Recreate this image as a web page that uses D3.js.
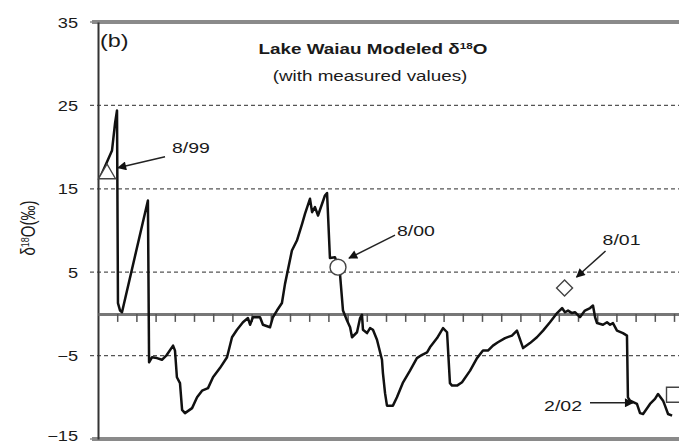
<!DOCTYPE html>
<html>
<head>
<meta charset="utf-8">
<script src="https://cdn.jsdelivr.net/npm/d3@7"></script>
<style>
  body { margin: 0; background: #fff; }
  svg text { font-family: "Liberation Sans", Arial, sans-serif; fill: #1a1a1a; }
</style>
</head>
<body>
<div id="chart"></div>
<script>
// modeled lake d18O; x = months since 1 Aug 1999
const months = [
  0.10, 0.73, 0.89, 0.99, 1.04, 1.15, 1.25, 2.60, 2.66,
  2.81, 3.07, 3.33, 3.59, 3.91, 4.01, 4.11, 4.27, 4.38, 4.53, 4.90, 5.16, 5.42, 5.73, 5.99,
  6.35, 6.72, 6.98, 7.24, 7.55, 7.81, 7.92, 8.07, 8.44, 8.59, 8.96, 9.11, 9.32, 9.58,
  9.74, 10.10, 10.36, 10.63, 10.78, 11.04, 11.15, 11.30, 11.46, 11.82, 11.93,
  12.08, 12.34, 12.50, 12.60, 12.76, 12.97, 13.13, 13.23, 13.49, 13.65, 13.75, 13.80,
  14.01, 14.17, 14.32, 14.53, 14.79, 14.84, 14.95, 15.05, 15.36, 15.57, 15.89, 16.25,
  16.61, 16.88, 17.14, 17.29, 17.66, 17.97, 18.18, 18.33, 18.44, 18.70, 18.96, 19.38,
  19.74, 20.05, 20.31, 20.57, 20.83, 21.20, 21.56, 21.82, 22.14, 22.50, 22.86, 23.18,
  23.54, 23.91, 24.17, 24.32, 24.48, 24.69, 24.84, 25.10, 25.36, 25.63, 25.78, 25.89,
  25.99, 26.30, 26.51, 26.67, 26.82, 27.03, 27.34, 27.55, 27.60, 27.71, 28.07, 28.23,
  28.39, 28.75, 29.01, 29.17, 29.43, 29.53, 29.69, 29.90
]
const d18O = [
  16.3, 19.6, 22.9, 24.4, 1.3, 0.4, 0.2, 13.6, -5.8,
  -5.2, -5.3, -5.5, -4.9, -3.8, -4.4, -7.6, -8.3, -11.5, -11.9, -11.3, -10.0, -9.2, -8.9, -7.6,
  -6.5, -5.2, -2.8, -1.9, -1.0, -0.5, -1.3, -0.4, -0.4, -1.3, -1.6, -0.4, 0.4, 1.3,
  3.6, 7.6, 8.8, 10.8, 12.0, 13.8, 12.2, 12.8, 11.8, 14.2, 14.5,
  6.7, 6.8, 5.8, 4.9, 0.4, -0.8, -1.6, -2.8, -2.2, -0.5, -0.1, -1.9,
  -2.3, -1.7, -1.9, -3.1, -5.5, -7.1, -9.5, -11.0, -11.0, -10.0, -8.2, -6.8,
  -5.3, -4.9, -4.6, -4.0, -2.9, -1.7, -2.2, -8.3, -8.6, -8.6, -8.2, -6.8,
  -5.3, -4.4, -4.4, -3.8, -3.4, -2.9, -2.6, -2.0, -4.1, -3.5, -2.8, -2.0,
  -1.0, 0.1, 0.7, 0.2, 0.4, 0.1, 0.2, -0.4, 0.4, 0.7, 1.0, -0.4,
  -1.1, -1.3, -1.0, -1.3, -1.1, -2.0, -2.3, -2.6, -10.0, -10.4, -10.8, -11.9,
  -12.0, -10.8, -10.2, -9.6, -10.4, -11.0, -12.0, -12.2
]

// measured values
const measLabels = ['8/99', '8/00', '8/01', '2/02']
const measMonths = [0.47, 12.5, 24.3, 30.0]
const measValues = [16.8, 5.6, 3.1, -9.7]

const yTicks = [35, 25, 15, 5, -5, -15]
const monthTicks = d3.range(1, 31)

const margin = { top: 22, right: 0, bottom: 3, left: 98 }
const w = 679
const h = 442
const width = w - margin.left - margin.right
const height = h - margin.top - margin.bottom
const sx = 1.3 // glyphs in the source are stretched sideways

const svg = d3.select('#chart').append('svg')
  .attr('width', w)
  .attr('height', h)

const g = svg.append('g').attr('transform', 'translate(' + margin.left + ',' + margin.top + ')')

const x = d3.scaleLinear().domain([0, 30.26]).range([0, width])
const y = d3.scaleLinear().domain([-15, 35]).range([height, 0])

// dashed grid + stubs left of the axis
g.selectAll('.grid')
  .data(yTicks)
  .enter().append('line')
    .attr('class', 'grid')
    .attr('x1', -8)
    .attr('x2', width)
    .attr('y1', d => y(d))
    .attr('y2', d => y(d))
    .attr('stroke', '#555')
    .attr('stroke-width', 1.2)
    .attr('stroke-dasharray', '4,3')

// top and bottom frame
g.selectAll('.frame')
  .data([35, -15])
  .enter().append('line')
    .attr('class', 'frame')
    .attr('x1', -6)
    .attr('x2', width)
    .attr('y1', d => y(d))
    .attr('y2', d => y(d))
    .attr('stroke', '#8a8a8a')
    .attr('stroke-width', 4)

// y axis
const yAxis = g.append('g')
  .call(d3.axisLeft(y).tickValues(yTicks).tickSize(0).tickFormat(d3.format('d')))
yAxis.select('.domain').attr('stroke', '#333').attr('stroke-width', 2)
yAxis.selectAll('text')
  .attr('x', 0)
  .attr('dy', '0.36em')
  .attr('transform', d => 'translate(-20,' + (d === -15 ? -4 : 0) + ') scale(' + sx + ',1)')
  .style('font-size', '14px')
  .style('font-family', '"Liberation Sans", Arial, sans-serif')
  .attr('fill', '#1a1a1a')

// zero line with monthly ticks
const xAxis = g.append('g')
  .attr('transform', 'translate(0,' + y(0) + ')')
  .call(d3.axisBottom(x).tickValues(monthTicks).tickSize(8).tickSizeOuter(0).tickFormat(''))
xAxis.select('.domain').attr('stroke', '#777').attr('stroke-width', 3)
xAxis.selectAll('.tick line').attr('stroke', '#555').attr('stroke-width', 1.5)

// modeled series
const line = d3.line()
  .x((d, i) => x(months[i]))
  .y(d => y(d))

g.append('path')
  .datum(d18O)
  .attr('fill', 'none')
  .attr('stroke', '#111')
  .attr('stroke-width', 2.5)
  .attr('stroke-linejoin', 'round')
  .attr('d', line)

// arrowhead
svg.append('defs').append('marker')
  .attr('id', 'arrow')
  .attr('viewBox', '0 0 10 10')
  .attr('refX', 9)
  .attr('refY', 5)
  .attr('markerUnits', 'userSpaceOnUse')
  .attr('markerWidth', 11)
  .attr('markerHeight', 9)
  .attr('orient', 'auto')
  .append('path')
    .attr('d', 'M0,0L10,5L0,10z')
    .attr('fill', '#111')

// annotation offsets from each measured point: arrow tail, arrow tip, label
const notes = [
  { tail: [58, -17], tip: [11, -6], text: [65, -21], anchor: 'start' },
  { tail: [57, -32], tip: [11, -9], text: [59, -31], anchor: 'start' },
  { tail: [41, -37], tip: [12, -11], text: [38, -43], anchor: 'start' },
  { tail: [-84, 8], tip: [-41, 8], text: [-92, 16], anchor: 'end' }
]

const shapes = [
  d3.symbol().type(d3.symbolTriangle).size(125),
  d3.symbol().type(d3.symbolCircle).size(200),
  d3.symbol().type(d3.symbolSquare).size(128),
  d3.symbol().type(d3.symbolSquare).size(225)
]

const meas = g.selectAll('.meas')
  .data(measLabels)
  .enter().append('g')
    .attr('class', 'meas')
    .attr('transform', (d, i) => 'translate(' + x(measMonths[i]) + ',' + y(measValues[i]) + ')')

meas.append('line')
  .attr('x1', (d, i) => notes[i].tail[0])
  .attr('y1', (d, i) => notes[i].tail[1])
  .attr('x2', (d, i) => notes[i].tip[0])
  .attr('y2', (d, i) => notes[i].tip[1])
  .attr('stroke', '#222')
  .attr('stroke-width', 1.5)
  .attr('marker-end', 'url(#arrow)')

meas.append('path')
  .attr('d', (d, i) => shapes[i]())
  .attr('transform', (d, i) => i === 2 ? 'rotate(45)' : null)
  .attr('fill', '#fff')
  .attr('stroke', '#444')
  .attr('stroke-width', 1.4)

meas.append('text')
  .attr('text-anchor', (d, i) => notes[i].anchor)
  .attr('transform', (d, i) => 'translate(' + notes[i].text[0] + ',' + notes[i].text[1] + ') scale(' + sx + ',1)')
  .style('font-size', '15px')
  .text(d => d)

// panel letter and titles
svg.append('text')
  .attr('transform', 'translate(100,47) scale(' + sx + ',1)')
  .style('font-size', '18px')
  .text('(b)')

const title = svg.append('text')
  .attr('text-anchor', 'middle')
  .attr('transform', 'translate(373,54) scale(' + sx + ',1)')
  .style('font-size', '14.5px')
  .style('font-weight', 'bold')
title.append('tspan').text('Lake Waiau Modeled \u03b4')
title.append('tspan').attr('dy', -5).style('font-size', '9px').text('18')
title.append('tspan').attr('dy', 5).text('O')

svg.append('text')
  .attr('text-anchor', 'middle')
  .attr('transform', 'translate(370,81) scale(' + sx + ',1)')
  .style('font-size', '14.5px')
  .text('(with measured values)')

const ylab = svg.append('text')
  .attr('text-anchor', 'middle')
  .attr('transform', 'translate(35,228) scale(' + sx + ',1) rotate(-90)')
  .style('font-size', '15px')
ylab.append('tspan').text('\u03b4')
ylab.append('tspan').attr('dy', -5).style('font-size', '9px').text('18')
ylab.append('tspan').attr('dy', 5).text('O(\u2030)')
</script>
</body>
</html>
